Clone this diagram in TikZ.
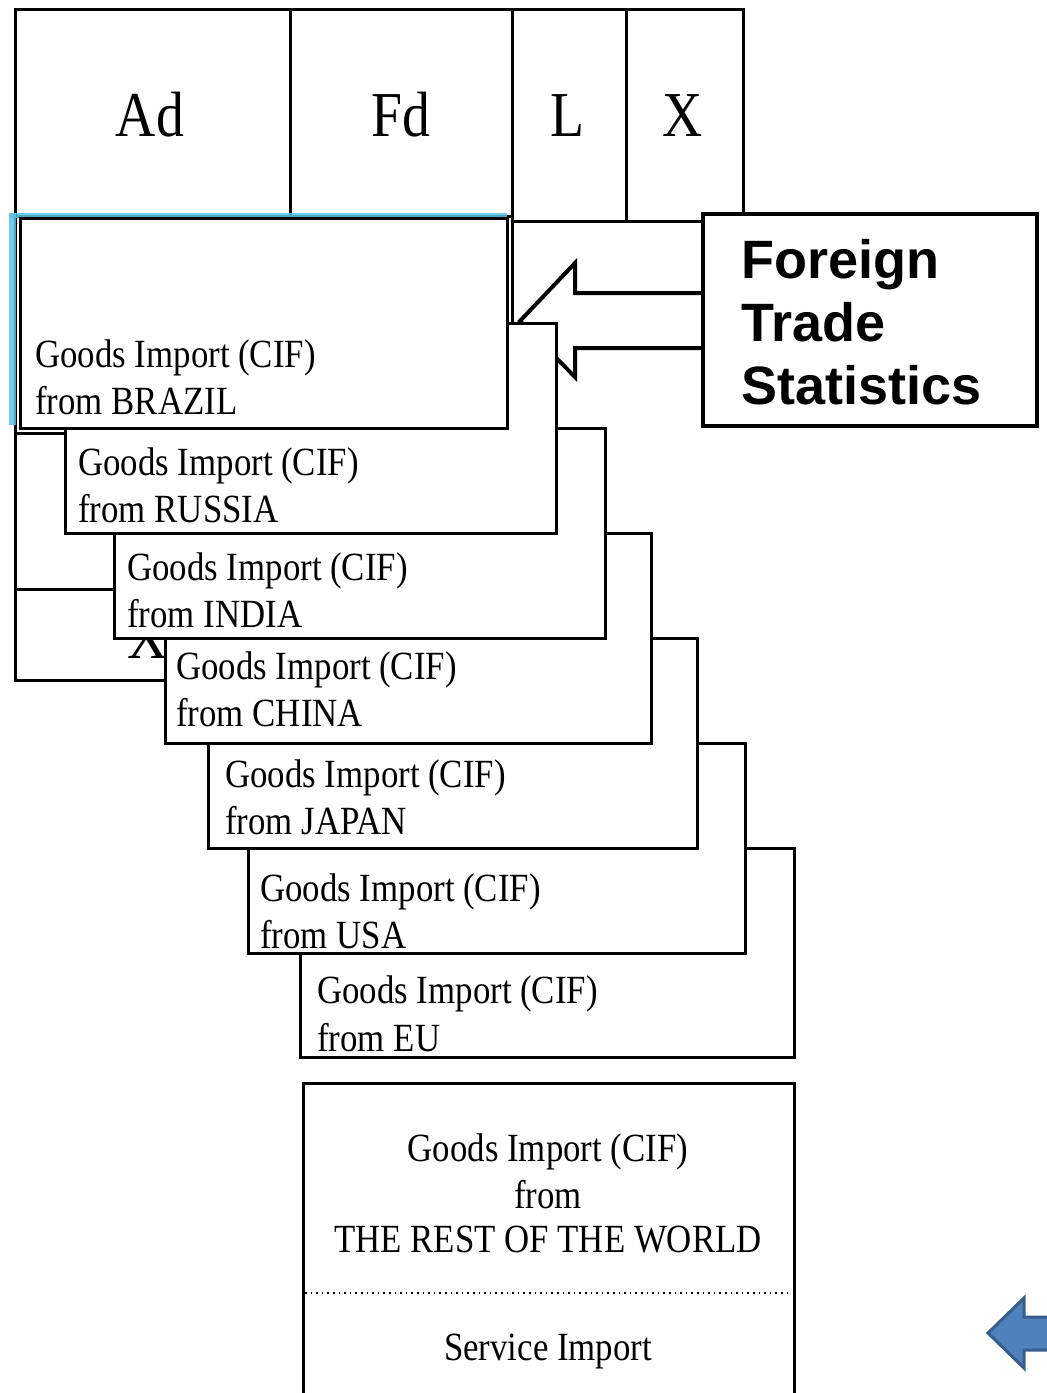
\documentclass[tikz,border=0pt]{standalone}
\usepackage{fontspec}
\setmainfont{Liberation Serif}
\newfontfamily\ftsfont{Liberation Sans}
\newcommand\cndns[1]{\scalebox{0.87}[1]{#1}}
\definecolor{cyanhl}{HTML}{5BC3E6}
\definecolor{arrowblue}{HTML}{4F81BD}
\definecolor{arrowborder}{HTML}{385D8A}
\begin{document}
\begin{tikzpicture}[x=0.5pt,y=-0.5pt,
  ln/.style={line width=1.5pt},
  box/.style={draw, fill=white, line width=1.5pt},
  txt/.style={inner sep=0pt, anchor=base west, font=\fontsize{20}{24}\selectfont},
  ctxt/.style={inner sep=0pt, anchor=base, font=\fontsize{20}{24}\selectfont},
  big/.style={inner sep=0pt, anchor=base, font=\fontsize{32}{36}\selectfont},
  fts/.style={inner sep=0pt, anchor=base west, font=\ftsfont\bfseries\fontsize{27}{32}\selectfont}]
\useasboundingbox (0,0) rectangle (1046,1393);

% top table
\draw[ln] (15,221) -- (15,9) -- (743,9) -- (743,214);
\draw[ln] (290,9) -- (290,216);
\draw[ln] (512,9) -- (512,680);
\draw[ln] (626,9) -- (626,221);
\draw[ln] (512,221) -- (703,221);
\node[big] (ad) at (150,136) {\cndns{Ad}};
\node[big] (fd) at (401,136) {\cndns{Fd}};
\node[big] (l) at (568,136) {\cndns{L}};
\node[big] (x) at (683,136) {\cndns{X}};

% hidden table
\draw[ln] (15,216) -- (15,680) -- (512,680);
\draw[ln] (15,433) -- (512,433);
\draw[ln] (15,589) -- (512,589);
\draw[ln] (15,216) -- (512,216);
\begin{scope}
\clip (100,638) rectangle (165,675);
\node[big] (xh) at (148,658) {\cndns{X}};
\end{scope}

% selection highlight
\fill[cyanhl, opacity=0.85] (9,213) rectangle (507,218);
\fill[cyanhl, opacity=0.85] (9,213) rectangle (16,425);

% big outline arrow
\draw[line width=2pt, fill=white, line join=miter] (703,293) -- (575,293) -- (575,263) -- (520,321) -- (575,377) -- (575,348) -- (703,348) -- cycle;

% Foreign Trade Statistics box
\draw[line width=2.25pt, fill=white] (703,214) rectangle (1037,426);
\node[fts] (fts1) at (741,278) {Foreign};
\node[fts] (fts2) at (741,341) {Trade};
\node[fts] (fts3) at (741,404) {Statistics};

% rest of the world
\fill[white] (303,1083) rectangle (794,1393);
\draw[ln] (303,1393) -- (303,1083) -- (794,1083) -- (794,1393);
\draw[dotted, line width=0.8pt] (305,1293) -- (792,1293);
\node[ctxt] (row1) at (548,1161) {\cndns{Goods Import (CIF)}};
\node[ctxt] (row2) at (548,1208) {\cndns{from}};
\node[ctxt] (row3) at (548,1252) {\cndns{THE REST OF THE WORLD}};
\node[ctxt] (srv) at (548,1360) {\cndns{Service Import}};

% country boxes (back to front)
\draw[box] (300,848) rectangle (794,1057);
\node[txt] (eu1) at (317,1003) {\cndns{Goods Import (CIF)}};
\node[txt] (eu2) at (317,1051) {\cndns{from EU}};

\draw[box] (248,743) rectangle (745,953);
\node[txt] (us1) at (260,901) {\cndns{Goods Import (CIF)}};
\node[txt] (us2) at (260,948) {\cndns{from USA}};

\draw[box] (208,638) rectangle (697,848);
\node[txt] (jp1) at (225,787) {\cndns{Goods Import (CIF)}};
\node[txt] (jp2) at (225,834) {\cndns{from JAPAN}};

\draw[box] (165,533) rectangle (651,743);
\node[txt] (cn1) at (176,679) {\cndns{Goods Import (CIF)}};
\node[txt] (cn2) at (176,726) {\cndns{from CHINA}};

\draw[box] (114,428) rectangle (605,638);
\node[txt] (in1) at (127,580) {\cndns{Goods Import (CIF)}};
\node[txt] (in2) at (127,627) {\cndns{from INDIA}};

\draw[box] (65,323) rectangle (556,533);
\node[txt] (ru1) at (78,475) {\cndns{Goods Import (CIF)}};
\node[txt] (ru2) at (78,522) {\cndns{from RUSSIA}};

\draw[box] (20,218) rectangle (507,428);
\node[txt] (br1) at (35,367) {\cndns{Goods Import (CIF)}};
\node[txt] (br2) at (35,414) {\cndns{from BRAZIL}};

% blue arrow at bottom right
\draw[fill=arrowblue, draw=arrowborder, line width=1.5pt, line join=miter] (1060,1317) -- (1024,1317) -- (1024,1298) -- (988,1333) -- (1024,1368) -- (1024,1350) -- (1060,1350);
\end{tikzpicture}
\end{document}
